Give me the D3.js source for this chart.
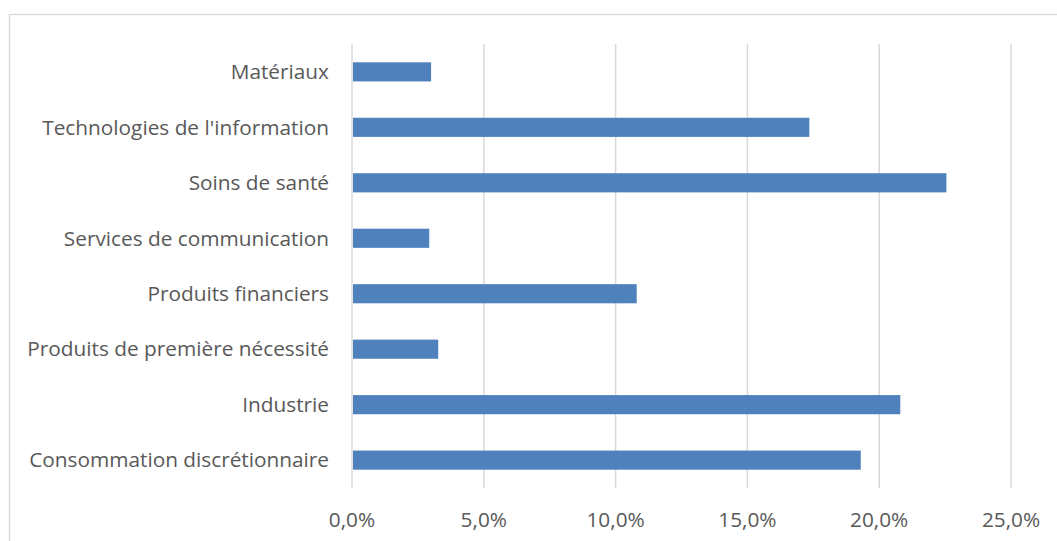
<!DOCTYPE html>
<html><head><meta charset="utf-8">
<script src="https://cdn.jsdelivr.net/npm/d3@7/dist/d3.min.js"></script>
<style>body{margin:0;background:#fff}svg{display:block}</style>
</head><body>
<svg id="c" width="1057" height="541"></svg>
<script>
const categories = ["Matériaux","Technologies de l'information","Soins de santé","Services de communication","Produits financiers","Produits de première nécessité","Industrie","Consommation discrétionnaire"];
const values = [3.0,17.35,22.55,2.93,10.8,3.27,20.8,19.3];
const ticks = [0,5,10,15,20,25];

const svg = d3.select("#c");
const m = {left:352, right:1011, top:44, bottom:488};
svg.append("rect").attr("x",9.5).attr("y",14.5).attr("width",1100).attr("height",600)
  .attr("fill","#fff").attr("stroke","#d9d9d9").attr("stroke-width",1.3);

const x = d3.scaleLinear().domain([0,25]).range([m.left,m.right]);
const y = d3.scaleBand().domain(categories).range([m.top,m.bottom]).paddingInner(0.655).paddingOuter(0.33);

svg.append("g").selectAll("line").data(ticks).join("line")
  .attr("x1",d=>x(d)).attr("x2",d=>x(d)).attr("y1",m.top).attr("y2",m.bottom)
  .attr("stroke","#d9d9d9").attr("stroke-width",1.5);

svg.append("g").selectAll("rect").data(values).join("rect")
  .attr("x",x(0)+1).attr("y",(d,i)=>y(categories[i]))
  .attr("width",d=>x(d)-x(0)-1).attr("height",y.bandwidth())
  .attr("fill","#4f81bd");

const font = "'Open Sans', sans-serif";
const lab = svg.append("g").selectAll("text").data(categories).join("text")
  .attr("x",329).attr("y",d=>y(d)+y.bandwidth()/2).attr("dy","0.35em")
  .attr("text-anchor","end").attr("fill","#595959").style("font-family",font).style("font-size","18px")
  .text(d=>d);
// fit the longest label to the reference width (~300px)
const w = lab.nodes()[7].getComputedTextLength();
const fs = 18*300/w;
lab.style("font-size",fs+"px");

svg.append("g").selectAll("text").data(ticks).join("text")
  .attr("x",d=>x(d)).attr("y",520).attr("dy","0.35em")
  .attr("text-anchor","middle").attr("fill","#595959").style("font-family",font).style("font-size",fs+"px")
  .text(d=>d.toFixed(1).replace(".",",")+"%");
</script>
</body></html>
